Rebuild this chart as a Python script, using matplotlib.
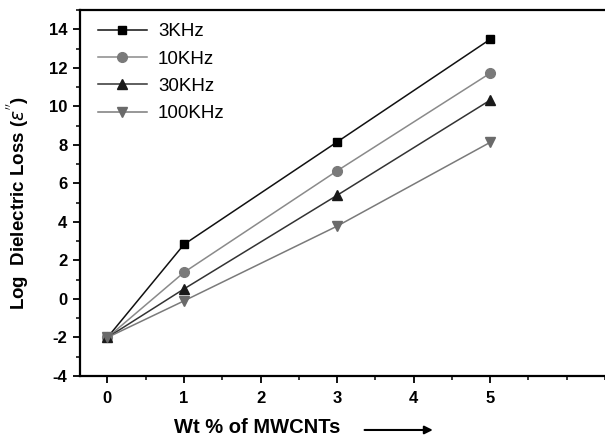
import matplotlib
matplotlib.use("Agg")
import matplotlib.pyplot as plt
from matplotlib.ticker import MultipleLocator

wt = [0, 1, 3, 5]
loss_3k = [-2.0, 2.83, 8.15, 13.48]
loss_10k = [-2.0, 1.38, 6.65, 11.72]
loss_30k = [-2.0, 0.52, 5.38, 10.32]
loss_100k = [-2.0, -0.1, 3.78, 8.13]
labels = ["3KHz", "10KHz", "30KHz", "100KHz"]

plt.rcParams['font.family'] = ['Liberation Sans', 'DejaVu Sans']
plt.rcParams['axes.unicode_minus'] = False

fig = plt.figure(figsize=(6.05, 4.36), dpi=100)
ax = fig.add_axes([0.132, 0.1376, 0.868, 0.8394])

series = [
    (loss_3k, 's', '#000000', '#111111', 6),
    (loss_10k, 'o', '#7a7a7a', '#8a8a8a', 7),
    (loss_30k, '^', '#1a1a1a', '#333333', 7),
    (loss_100k, 'v', '#6a6a6a', '#7a7a7a', 7),
]
for (vals, mk, mc, lc, ms), lab in zip(series, labels):
    ax.plot(wt, vals, color=lc, lw=1.1, marker=mk, markersize=ms,
            markerfacecolor=mc, markeredgecolor=mc, label=lab)

ax.set_xlim(-0.36, 6.5)
ax.set_ylim(-4, 15)
ax.xaxis.set_minor_locator(MultipleLocator(0.5))
ax.yaxis.set_minor_locator(MultipleLocator(1))
ax.set_xticks([0, 1, 2, 3, 4, 5])
ax.set_yticks([-4, -2, 0, 2, 4, 6, 8, 10, 12, 14])
ax.tick_params(which='major', direction='out', length=5, width=1.3,
               labelsize=12, pad=6)
ax.tick_params(axis='y', which='major', pad=4)
ax.tick_params(which='minor', direction='out', length=3, width=1.1)
for t in ax.get_xticklabels() + ax.get_yticklabels():
    t.set_fontweight('bold')
for s in ['left', 'bottom', 'top']:
    ax.spines[s].set_linewidth(1.6)
ax.spines['right'].set_visible(False)

ax.set_ylabel("Log  Dielectric Loss ($\\varepsilon^{''}$)", fontsize=13.5,
              fontweight='bold')
ax.yaxis.set_label_coords(-0.093, 0.473)
ax.set_xlabel("Wt % of MWCNTs", fontsize=14.5, fontweight='bold')
ax.xaxis.set_label_coords(0.337, -0.115)
fig.patches.append(matplotlib.patches.FancyArrowPatch(
    (0.598, 0.0138), (0.72, 0.0138), transform=fig.transFigure,
    arrowstyle='-|>', mutation_scale=12, color='black', lw=1.5))

ax.legend(loc='upper left', frameon=False, fontsize=13.5,
          handlelength=2.6, handletextpad=0.6, labelspacing=0.55,
          borderaxespad=0.0, bbox_to_anchor=(0.02, 0.985))

fig.savefig("out.png", dpi=100)
